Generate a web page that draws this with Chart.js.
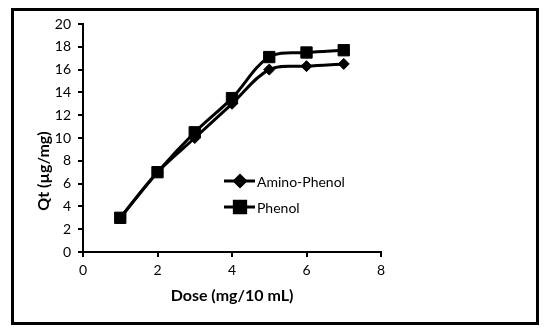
<!DOCTYPE html>
<html>
<head>
<meta charset="utf-8">
<script src="https://cdn.jsdelivr.net/npm/chart.js@4"></script>
<style>
  html, body { margin: 0; padding: 0; background: #fff; }
  #wrap { position: relative; width: 550px; height: 334px; }
  #frame {
    position: absolute; left: 11px; top: 8px; width: 528px; height: 317px;
    border: 3px solid #000; box-sizing: border-box; pointer-events: none;
  }
  canvas { position: absolute; left: 0; top: 0; }
</style>
</head>
<body>
<div id="wrap">
  <canvas id="chart" width="550" height="334"></canvas>
  <div id="frame"></div>
</div>
<script>
/* ================= DATA ================= */
const doses = [1, 2, 3, 4, 5, 6, 7];
const aminoPhenol = [3, 7, 10, 13, 16, 16.3, 16.5];
const phenol = [3, 7, 10.5, 13.5, 17.1, 17.5, 17.7];
const seriesNames = ["Amino-Phenol", "Phenol"];
const xTitle = "Dose (mg/10 mL)";
const yTitle = "Qt (µg/mg)";

const FONT = "Lato, 'Open Sans', sans-serif";

const toPoints = ys => doses.map((x, i) => ({ x: x, y: ys[i] }));

/* ================= PLUGINS ================= */
// y title sits lower than the axis centre in the original
const yTitlePlugin = {
  id: "yTitle",
  afterDraw(chart) {
    const ctx = chart.ctx;
    ctx.save();
    ctx.translate(44, 171);
    ctx.rotate(-Math.PI / 2);
    ctx.font = "bold 16px " + FONT;
    ctx.fillStyle = "#000";
    ctx.textAlign = "center";
    ctx.textBaseline = "middle";
    ctx.fillText(yTitle, 0, 0);
    ctx.restore();
  }
};

// legend drawn inside the plot area
const legendPlugin = {
  id: "insideLegend",
  afterDraw(chart) {
    const ctx = chart.ctx;
    const rows = [181, 207];
    chart.data.datasets.forEach((ds, i) => {
      const y = rows[i];
      ctx.save();
      ctx.strokeStyle = "#000";
      ctx.lineWidth = 3;
      ctx.beginPath();
      ctx.moveTo(224, y);
      ctx.lineTo(255, y);
      ctx.stroke();
      Chart.helpers.drawPoint(ctx, {
        pointStyle: ds.pointStyle,
        radius: ds.pointRadius,
        borderWidth: 1
      }, 240, y);
      ctx.fillStyle = "#000";
      ctx.fill();
      ctx.font = "14px " + FONT;
      ctx.textBaseline = "middle";
      ctx.fillText(ds.label, 257, y + 1);
      ctx.restore();
    });
  }
};

/* ================= CHART ================= */
new Chart(document.getElementById("chart"), {
  type: "line",
  data: {
    datasets: [
      {
        label: seriesNames[0],
        data: toPoints(aminoPhenol),
        borderColor: "#000",
        backgroundColor: "#000",
        borderWidth: 3,
        pointStyle: "rectRot",
        pointRadius: 5.5,
        pointBorderWidth: 1,
        tension: 0.35
      },
      {
        label: seriesNames[1],
        data: toPoints(phenol),
        borderColor: "#000",
        backgroundColor: "#000",
        borderWidth: 3,
        pointStyle: "rect",
        pointRadius: 8,
        pointBorderWidth: 1,
        tension: 0.35
      }
    ]
  },
  options: {
    responsive: false,
    animation: false,
    events: [],
    layout: { padding: { left: 0, top: 24, right: 169, bottom: 0 } },
    plugins: {
      legend: { display: false },
      tooltip: { enabled: false }
    },
    scales: {
      x: {
        type: "linear",
        min: 0,
        max: 8,
        ticks: { stepSize: 2, color: "#000", padding: 5, font: { family: FONT, size: 14 } },
        grid: { drawOnChartArea: false, drawTicks: true, tickLength: 5, color: "#000", lineWidth: 2 },
        border: { color: "#000", width: 2 },
        title: {
          display: true,
          text: xTitle,
          color: "#000",
          font: { family: FONT, size: 16, weight: "bold" },
          padding: { top: 0, bottom: 29 }
        },
        afterFit(scale) { scale.height = 82; }
      },
      y: {
        min: 0,
        max: 20,
        ticks: { stepSize: 2, color: "#000", padding: 7, font: { family: FONT, size: 14 } },
        grid: { drawOnChartArea: false, drawTicks: true, tickLength: 5, color: "#000", lineWidth: 2 },
        border: { color: "#000", width: 2 },
        afterFit(scale) { scale.width = 83; }
      }
    }
  },
  plugins: [yTitlePlugin, legendPlugin]
});
</script>
</body>
</html>
